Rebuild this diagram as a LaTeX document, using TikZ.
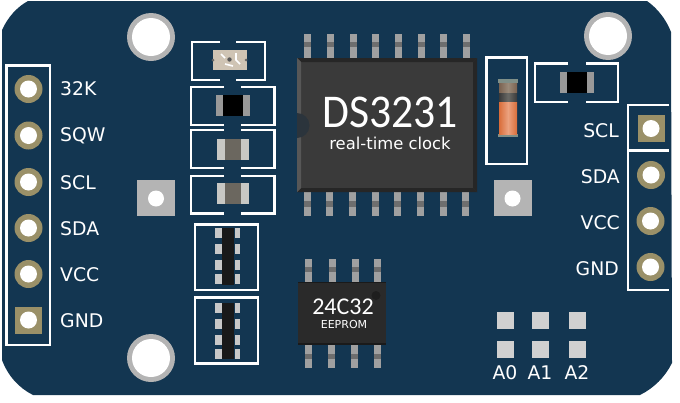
\documentclass[tikz,border=0pt]{standalone}
\usepackage{fontspec}
\setmainfont{DejaVu Sans}
\newfontfamily\chipfont{Carlito}
\definecolor{pcb}{HTML}{133651}
\definecolor{ringc}{HTML}{9A9068}
\definecolor{holeg}{HTML}{B4B4B4}
\definecolor{pingrey}{HTML}{A0A0A0}
\definecolor{pinmid}{HTML}{6E6E6E}
\definecolor{capend}{HTML}{C8C8C4}
\definecolor{capmid}{HTML}{6B675F}
\definecolor{resend}{HTML}{999999}
\definecolor{netpad}{HTML}{C8C8C8}
\definecolor{smallpad}{HTML}{D0D0D0}
\definecolor{chipbody}{HTML}{3A3A3A}
\definecolor{chipband}{HTML}{262626}
\definecolor{diodeorange}{HTML}{D96D3A}
\definecolor{diodelight}{HTML}{EBA27F}
\definecolor{diodecap}{HTML}{7F8F88}
\definecolor{ledbody}{HTML}{CFC4B4}
\definecolor{notchc}{HTML}{2B343C}
\definecolor{eebody}{HTML}{2A2A2A}
\definecolor{eeband}{HTML}{1A1A1A}
\definecolor{eedot}{HTML}{1E1E1E}
\definecolor{dkA}{HTML}{3A3A3A}
\definecolor{dkB}{HTML}{6A6A66}
\definecolor{brA}{HTML}{7A6250}
\definecolor{brB}{HTML}{9A8A7A}
\tikzset{
  silk/.style={draw=white,line width=2.6pt,fill=none},
  lbl/.style={text=white,font=\fontsize{18.8}{20}\selectfont,inner sep=0pt},
  pcbfill/.style={fill=pcb,draw=none}
}
% #1 x, #2 y : round header pad
\newcommand{\roundpad}[2]{%
  \fill[ringc] (#1,#2) circle[radius=14];
  \fill[white] (#1,#2) circle[radius=8.5];}
% square header pad
\newcommand{\squarepad}[2]{%
  \fill[ringc] (#1-13.5,#2-13.5) rectangle (#1+13.5,#2+13.5);
  \fill[white] (#1,#2) circle[radius=8.5];}
\newcommand{\mounthole}[2]{%
  \fill[holeg] (#1,#2) circle[radius=24];
  \fill[white] (#1,#2) circle[radius=19];}
\newcommand{\greypad}[2]{%
  \fill[holeg] (#1-19,#2-18) rectangle (#1+19,#2+18);
  \fill[white] (#1,#2+.5) circle[radius=8];}
% bracket frame: left,right,top,bottom,gapleft,gapright
\newcommand{\bracketframe}[6]{%
  \draw[silk] (#5,#3) -- (#1,#3) -- (#1,#4) -- (#5,#4);
  \draw[silk] (#6,#3) -- (#2,#3) -- (#2,#4) -- (#6,#4);}
% smd: left,right,top,bottom,endw,endcolor,midcolor
\newcommand{\smd}[7]{%
  \fill[#6] (#1,#3) rectangle (#2,#4);
  \fill[#7] (#1+#5,#3) rectangle (#2-#5,#4);}
% vertical pin: x, top, bottom, midtop, midbottom
\newcommand{\vpin}[5]{%
  \fill[pingrey] (#1-3.5,#2) rectangle (#1+3.5,#3);
  \fill[pinmid] (#1-3.5,#4) rectangle (#1+3.5,#5);}
\newcommand{\resnet}[6]{% top of body, bottom of body, pads y tops
  \fill[netpad] (215,#3) rectangle (221.5,#3+10);
  \fill[netpad] (234.5,#3) rectangle (240,#3+10);
  \fill[netpad] (215,#4) rectangle (221.5,#4+10);
  \fill[netpad] (234.5,#4) rectangle (240,#4+10);
  \fill[netpad] (215,#5) rectangle (221.5,#5+10);
  \fill[netpad] (234.5,#5) rectangle (240,#5+10);
  \fill[netpad] (215,#6) rectangle (221.5,#6+10);
  \fill[netpad] (234.5,#6) rectangle (240,#6+10);
  \fill[black!90] (222,#1) rectangle (234,#2);}
\begin{document}
\begin{tikzpicture}[x=1pt,y=-1pt]
\useasboundingbox (0,0) rectangle (680,402);
% board
\fill[pcb] (2,30) .. controls (8,17) and (17,7) .. (28,1) -- (647,1)
  .. controls (657,8) and (666,19) .. (671,32) -- (672,363)
  .. controls (665,377) and (654,388) .. (640,395) -- (33,395)
  .. controls (19,388) and (8,376) .. (2,360) -- cycle;
% left header
\draw[silk] (6.5,65.5) rectangle (50,345);
\foreach \y in {89,135.5,182,228,274} {\roundpad{28.5}{\y}}
\squarepad{28.5}{320}
\node[lbl,anchor=west] (l32k) at (60,89) {32K};
\node[lbl,anchor=west] (lsqw) at (60,136) {SQW};
\node[lbl,anchor=west] (lscl) at (60,183) {SCL};
\node[lbl,anchor=west] (lsda) at (60,229) {SDA};
\node[lbl,anchor=west] (lvcc) at (60,275) {VCC};
\node[lbl,anchor=west] (lgnd) at (60,321) {GND};
% mounting holes and grey pads
\mounthole{151}{37}
\mounthole{151}{358}
\mounthole{608}{36}
\greypad{156}{198}
\greypad{512.5}{198}
% LED
\bracketframe{192}{265}{42}{80}{220}{236}
\fill[ledbody] (212.5,50) rectangle (247,70);
\fill[gray!80!black] (213,60) circle[radius=1.5];
\fill[gray!80!black] (246,60) circle[radius=1.5];
\draw[white,line width=1.6pt] (221,54) -- (225,58);
\draw[white,line width=1.6pt] (225,64) -- (229,65) -- (233,66);
\draw[white,line width=1.6pt] (236,53) -- (236,60) -- (240,64);
\fill[gray!70!black] (229.5,59.5) circle[radius=2.2];
% SMD column
\bracketframe{191}{274.5}{87}{125}{224}{241}
\smd{216}{250}{95}{116}{7}{resend}{black}
\bracketframe{191}{274.5}{130}{168}{224}{241}
\smd{217}{249}{139}{160}{8}{capend}{capmid}
\bracketframe{191}{274.5}{176}{213.5}{224}{241}
\smd{217}{249}{183}{204}{8}{capend}{capmid}
% resistor networks
\draw[silk] (195,224.5) rectangle (258,290);
\resnet{228}{285}{228}{244}{260}{274}
\draw[silk] (195,297.5) rectangle (258,363.5);
\resnet{303}{359}{303}{319}{335}{349}
% DS3231 pins
\foreach \x in {307,330,353,375,398,421,443,466} {\vpin{\x}{34}{58}{42}{47}}
\foreach \x in {307,329,352,375,397,420,443,465} {\vpin{\x}{192}{216}{201}{207}}
% DS3231 body
\fill[chipbody] (297,58) rectangle (477,192);
\fill[chipband] (297,58) -- (477,58) -- (473,62) -- (301,62) -- cycle;
\fill[chipband] (297,192) -- (477,192) -- (473,188) -- (301,188) -- cycle;
\fill[chipbody!85!white] (297,58) -- (301,62) -- (301,188) -- (297,192) -- cycle;
\fill[chipband] (477,58) -- (473,62) -- (473,188) -- (477,192) -- cycle;
\fill[notchc] (297,113) arc[start angle=-90,end angle=90,radius=12.5];
\node[text=white,font=\chipfont\fontsize{47}{50}\selectfont,inner sep=0pt,xscale=.93,transform shape] (ds) at (390,112) {DS3231};
\node[text=white,font=\fontsize{16.4}{18}\selectfont,inner sep=0pt] (rtc) at (390,143) {real-time clock};
% 24C32
\foreach \x in {308,332,355,377} {\vpin{\x}{259}{282}{267}{272}}
\foreach \x in {308,331,354,377} {\vpin{\x}{345}{368}{354}{359}}
\fill[eebody] (298,282) rectangle (386,345);
\fill[eeband] (298,342.5) rectangle (386,345);
\fill[eeband] (298,282) rectangle (386,283);
\fill[eedot] (376,295.5) circle[radius=4.5];
\node[text=white,font=\chipfont\fontsize{24}{26}\selectfont,inner sep=0pt] (ee) at (343,307) {24C32};
\node[text=white,font=\fontsize{11}{12}\selectfont,inner sep=0pt] (eep) at (344,324) {EEPROM};
% diode
\draw[silk] (486.5,57.5) rectangle (527,164);
\fill[diodecap] (498,79) rectangle (518,83);
\fill[diodecap] (498,134) rectangle (518,137);
\fill[left color=dkA,right color=dkA,middle color=dkB] (499,83) rectangle (517,102);
\fill[left color=brA,right color=brA,middle color=brB] (499,83) rectangle (517,92);
\fill[left color=diodeorange,right color=diodeorange,middle color=diodelight] (499,102) rectangle (517,134);
% top-right SMD
\bracketframe{535}{618}{63.5}{102}{568}{586}
\smd{560}{594}{72}{93}{7}{resend}{black}
% right header
\draw[silk] (669,105) -- (628,105) -- (628,290) -- (669,290);
\draw[silk] (628,150.5) -- (669,150.5);
\squarepad{651}{128.5}
\roundpad{651}{175}
\roundpad{650.5}{221}
\roundpad{650.5}{267}
\node[lbl,anchor=east] (rscl) at (619,131) {SCL};
\node[lbl,anchor=east] (rsda) at (620,177) {SDA};
\node[lbl,anchor=east] (rvcc) at (620,223) {VCC};
\node[lbl,anchor=east] (rgnd) at (619,269) {GND};
% address pads
\foreach \x in {497,532,569} \foreach \y in {312,341} {\fill[smallpad] (\x,\y) rectangle (\x+17,\y+17);}
\node[lbl] (a0) at (505,373) {A0};
\node[lbl] (a1) at (540,373) {A1};
\node[lbl] (a2) at (577,373) {A2};
\end{tikzpicture}
\end{document}
